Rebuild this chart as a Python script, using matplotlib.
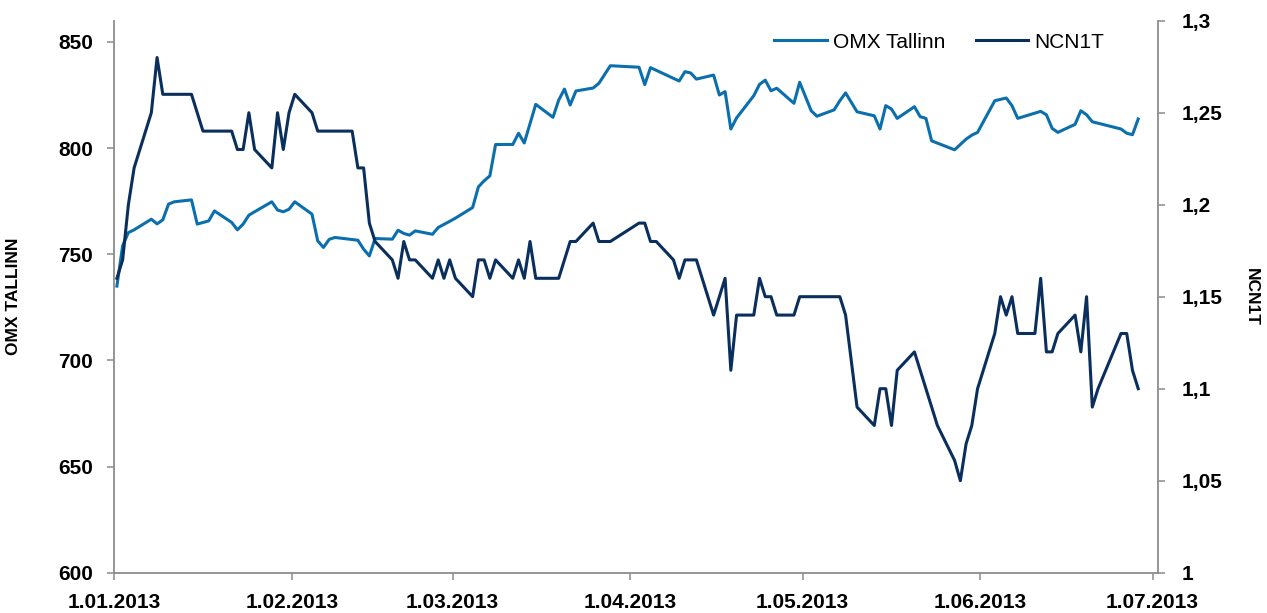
import pandas as pd
import matplotlib
matplotlib.use("Agg")
import matplotlib.pyplot as plt
import matplotlib.dates as mdates
from matplotlib.ticker import FuncFormatter

plt.rcParams["font.family"] = ["Liberation Sans", "DejaVu Sans"]
plt.rcParams["font.weight"] = "bold"

# ---- data ----
omx_dates = [
    "01-01", "01-02", "01-03", "01-04", "01-07", "01-08", "01-09", "01-10", "01-11", "01-14",
    "01-15", "01-17", "01-18", "01-21", "01-22", "01-23", "01-24", "01-25", "01-28", "01-29",
    "01-30", "01-31", "02-01", "02-04", "02-05", "02-06", "02-07", "02-08", "02-12", "02-13",
    "02-14", "02-15", "02-18", "02-19", "02-20", "02-21", "02-22", "02-25", "02-26", "02-28",
    "03-01", "03-04", "03-05", "03-06", "03-07", "03-08", "03-11", "03-12", "03-13", "03-15",
    "03-18", "03-19", "03-20", "03-21", "03-22", "03-25", "03-26", "03-28", "04-02", "04-03",
    "04-04", "04-09", "04-10", "04-11", "04-12", "04-15", "04-16", "04-17", "04-18", "04-19",
    "04-22", "04-23", "04-24", "04-25", "04-26", "04-29", "04-30", "05-02", "05-03", "05-06",
    "05-07", "05-08", "05-10", "05-13", "05-14", "05-15", "05-16", "05-17", "05-20", "05-21",
    "05-22", "05-23", "05-27", "05-29", "05-30", "05-31", "06-03", "06-05", "06-06", "06-07",
    "06-11", "06-12", "06-13", "06-14", "06-17", "06-18", "06-19", "06-20", "06-25", "06-26",
    "06-27", "06-28",
]
omx_values = [
    735, 754, 760.2, 761.5, 766.5, 764.3, 766.2, 773.6, 774.7, 775.6,
    764.2, 765.7, 770.4, 765, 761.5, 764.2, 768.4, 770, 774.7, 770.8,
    770, 771.2, 774.7, 768.9, 756.3, 753.2, 757, 757.9, 756.6, 752.4,
    749.2, 757.4, 757.1, 761.3, 759.8, 759, 761, 759.4, 762.6, 765.5,
    767, 772, 781.7, 784.6, 786.9, 801.7, 801.7, 807, 802.4, 820.6,
    814.5, 822.6, 827.8, 820.3, 826.9, 828.3, 830.5, 838.8, 838.1, 829.9,
    837.9, 831.6, 836, 835.4, 832.5, 834.4, 825, 826.6, 809, 814.2,
    824.7, 830, 832, 827, 828.2, 821.1, 831, 817.6, 815, 818,
    822.3, 826, 817.1, 815.2, 809, 820, 818.4, 814, 819.5, 814.8,
    814, 803.4, 799.2, 804.2, 806.1, 807.4, 822.3, 823.6, 820, 814,
    817.3, 815.7, 809.3, 807.4, 811.2, 817.6, 815.7, 812.4, 809, 807,
    806.3, 813.7,
]

ncn_dates = [
    "01-01", "01-02", "01-03", "01-04", "01-07", "01-08", "01-09", "01-14", "01-16", "01-21",
    "01-22", "01-23", "01-24", "01-25", "01-28", "01-29", "01-30", "01-31", "02-01", "02-04",
    "02-05", "02-11", "02-12", "02-13", "02-14", "02-15", "02-18", "02-19", "02-20", "02-21",
    "02-22", "02-25", "02-26", "02-27", "02-28", "03-01", "03-04", "03-05", "03-06", "03-07",
    "03-08", "03-11", "03-12", "03-13", "03-14", "03-15", "03-19", "03-21", "03-22", "03-25",
    "03-26", "03-28", "04-02", "04-03", "04-04", "04-05", "04-08", "04-09", "04-10", "04-12",
    "04-15", "04-17", "04-18", "04-19", "04-22", "04-23", "04-24", "04-25", "04-26", "04-29",
    "04-30", "05-07", "05-08", "05-10", "05-13", "05-14", "05-15", "05-16", "05-17", "05-20",
    "05-24", "05-27", "05-28", "05-29", "05-30", "05-31", "06-03", "06-04", "06-05", "06-06",
    "06-07", "06-10", "06-11", "06-12", "06-13", "06-14", "06-17", "06-18", "06-19", "06-20",
    "06-21", "06-25", "06-26", "06-27", "06-28",
]
ncn_values = [
    1.16, 1.17, 1.20, 1.22, 1.25, 1.28, 1.26, 1.26, 1.24, 1.24,
    1.23, 1.23, 1.25, 1.23, 1.22, 1.25, 1.23, 1.25, 1.26, 1.25,
    1.24, 1.24, 1.22, 1.22, 1.19, 1.18, 1.17, 1.16, 1.18, 1.17,
    1.17, 1.16, 1.17, 1.16, 1.17, 1.16, 1.15, 1.17, 1.17, 1.16,
    1.17, 1.16, 1.17, 1.16, 1.18, 1.16, 1.16, 1.18, 1.18, 1.19,
    1.18, 1.18, 1.19, 1.19, 1.18, 1.18, 1.17, 1.16, 1.17, 1.17,
    1.14, 1.16, 1.11, 1.14, 1.14, 1.16, 1.15, 1.15, 1.14, 1.14,
    1.15, 1.15, 1.14, 1.09, 1.08, 1.10, 1.10, 1.08, 1.11, 1.12,
    1.08, 1.061, 1.05, 1.07, 1.08, 1.10, 1.13, 1.15, 1.14, 1.15,
    1.13, 1.13, 1.16, 1.12, 1.12, 1.13, 1.14, 1.12, 1.15, 1.09,
    1.10, 1.13, 1.13, 1.11, 1.10,
]

left_ticks = [600, 650, 700, 750, 800, 850]
right_ticks = [1, 1.05, 1.1, 1.15, 1.2, 1.25, 1.3]
month_ticks = ["2013-01-01", "2013-02-01", "2013-03-01", "2013-04-01",
               "2013-05-01", "2013-06-01", "2013-07-01"]

# Excel date axis: points sit in the middle of their day
half_day = pd.Timedelta(hours=12)
omx_x = pd.to_datetime(["2013-" + d for d in omx_dates]) + half_day
ncn_x = pd.to_datetime(["2013-" + d for d in ncn_dates]) + half_day

c_omx = "#0B6FAD"
c_ncn = "#0A2F5C"
c_axis = "#8C8C8C"

fig = plt.figure(figsize=(12.67, 6.13), dpi=100)
ax = fig.add_axes([0.0900, 0.0658, 0.8242, 0.9004])
ax2 = ax.twinx()

l1, = ax.plot(omx_x, omx_values, color=c_omx, lw=2.2, label="OMX Tallinn")
l2, = ax2.plot(ncn_x, ncn_values, color=c_ncn, lw=2.2, label="NCN1T")

ax.set_xlim(pd.Timestamp("2013-01-01"), pd.Timestamp("2013-07-02"))
ax.set_ylim(600, 860)
ax2.set_ylim(1, 1.3)
ax.set_yticks(left_ticks)
ax2.set_yticks(right_ticks)
ax.set_xticks(pd.to_datetime(month_ticks))


def fmt_date(v, pos):
    d = mdates.num2date(v)
    return f"{d.day}.{d.month:02d}.{d.year}"


ax.xaxis.set_major_formatter(FuncFormatter(fmt_date))
ax2.yaxis.set_major_formatter(FuncFormatter(lambda v, p: f"{v:g}".replace(".", ",")))

for a in (ax, ax2):
    a.spines["top"].set_visible(False)
    for s in a.spines.values():
        s.set_color(c_axis)
        s.set_linewidth(1.3)
    a.tick_params(direction="out", length=5, width=1.1, color=c_axis,
                  labelsize=15, labelcolor="black")
ax.spines["right"].set_visible(False)
ax2.spines["left"].set_visible(False)
ax2.spines["bottom"].set_visible(False)
ax.tick_params(axis="y", pad=10)
ax.tick_params(axis="x", pad=10)
ax2.tick_params(axis="y", pad=12)

ax.set_ylabel("OMX TALLINN", fontsize=12.5, fontweight="bold")
ax.yaxis.set_label_coords(-0.089, 0.5)
ax2.set_ylabel("NCN1T", fontsize=12.5, fontweight="bold", rotation=-90, va="center")
ax2.yaxis.set_label_coords(1.089, 0.5)

ax.legend([l1, l2], ["OMX Tallinn", "NCN1T"], loc="center", bbox_to_anchor=(0.7905, 0.961),
          ncol=2, frameon=False, prop={"size": 15, "weight": "normal"},
          handlelength=2.5, handletextpad=0.3, columnspacing=1.5)

fig.savefig("out.png", dpi=100)
